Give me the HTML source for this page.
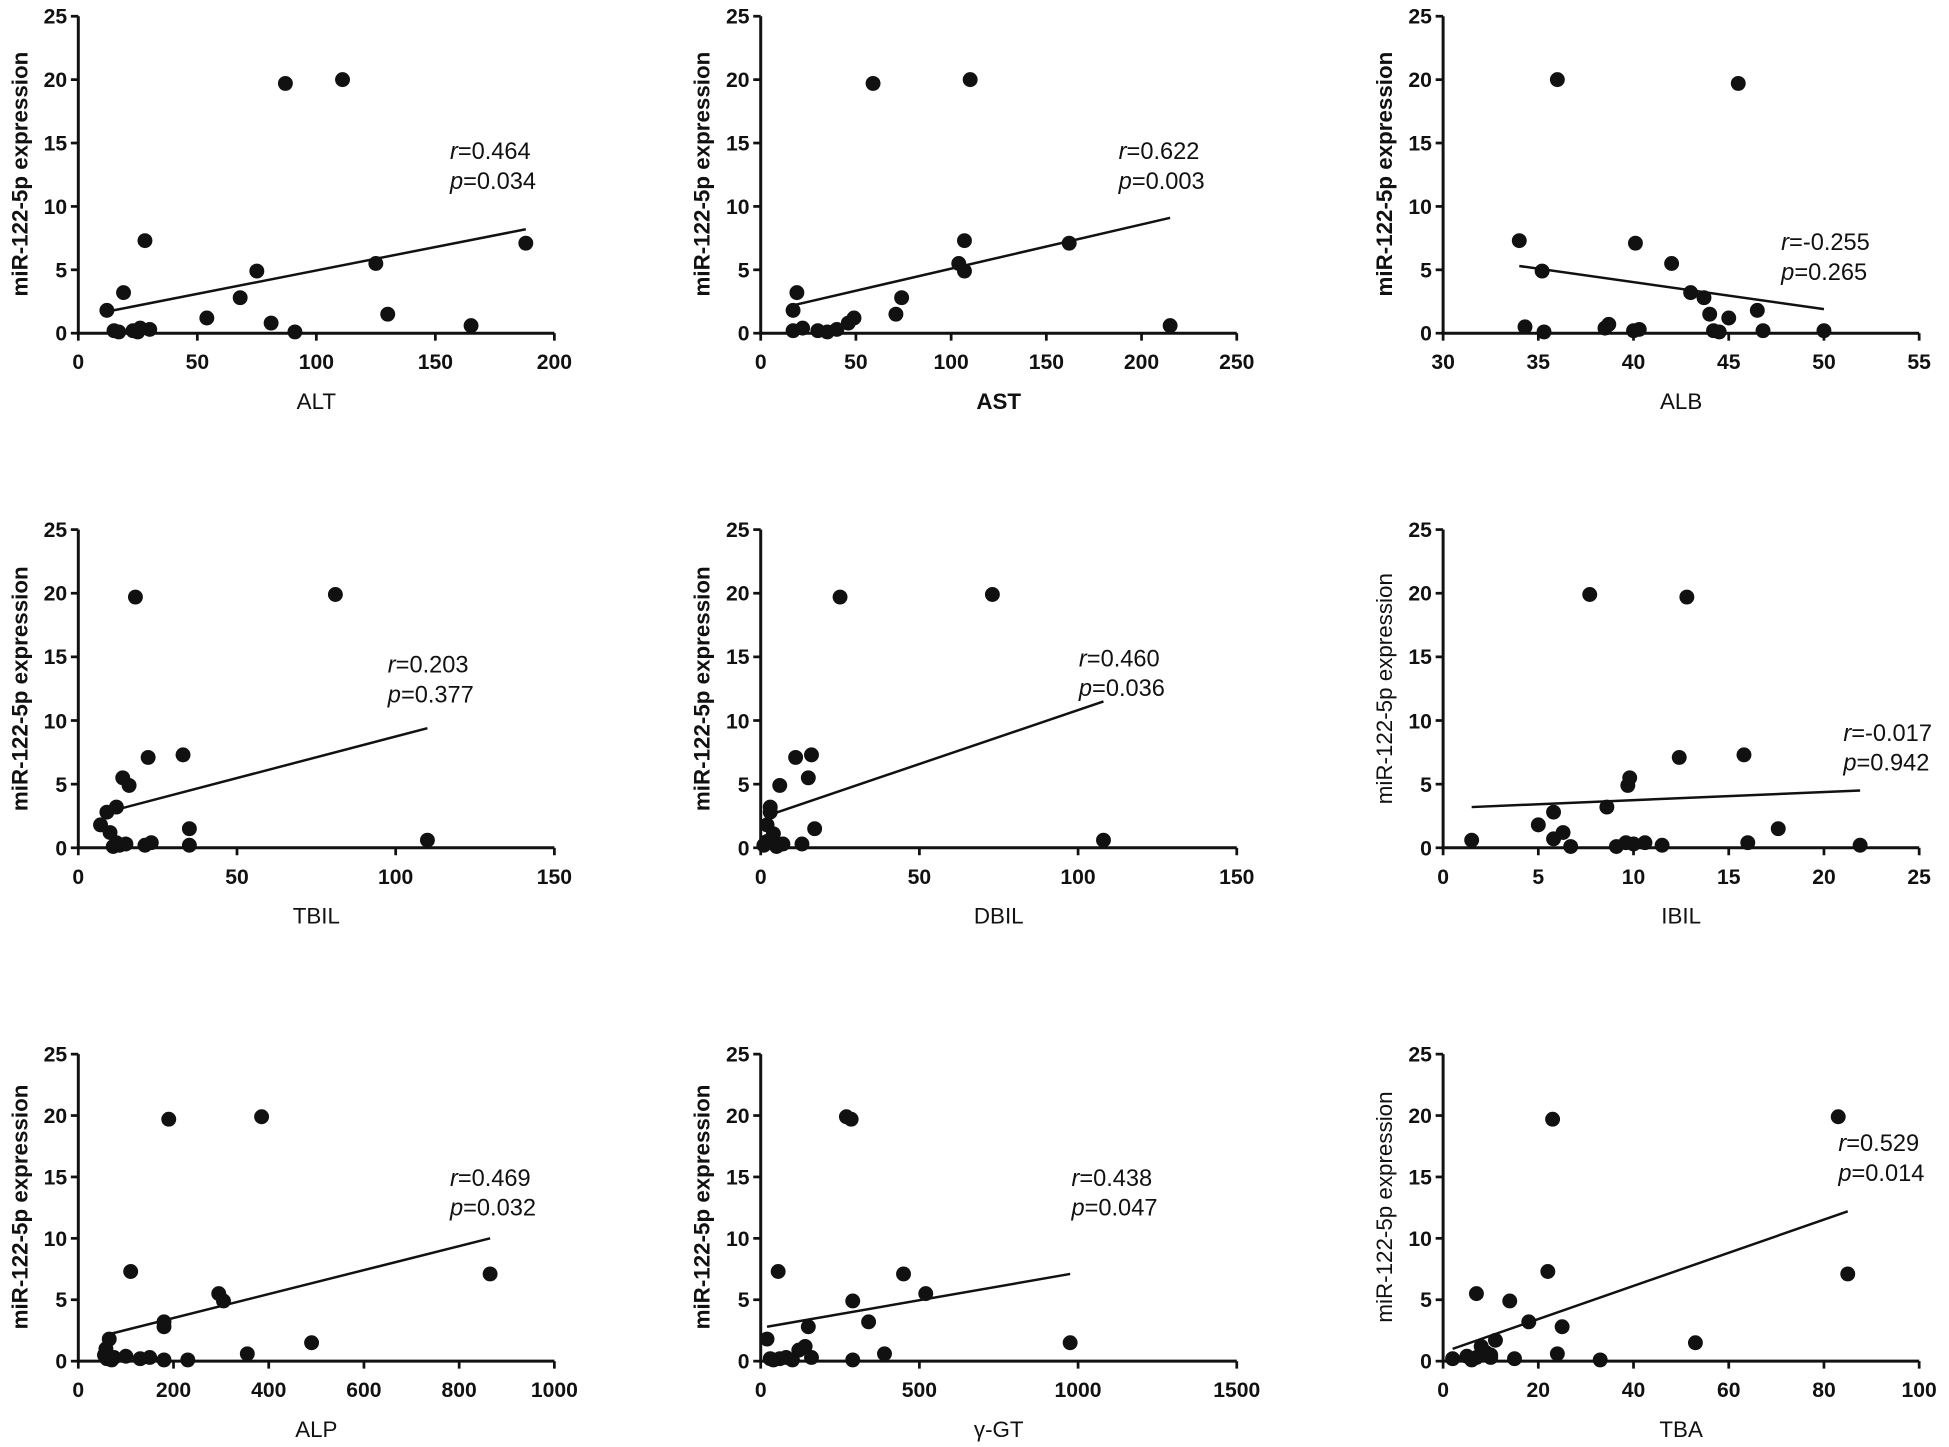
<!DOCTYPE html>
<html><head><meta charset="utf-8"><style>
html,body{margin:0;padding:0;background:#fff;}
svg{display:block;}
text{font-family:"Liberation Sans",Arial,sans-serif;fill:#111;}
.t{font-size:17px;font-weight:bold;}
.yl{font-size:18px;font-weight:bold;}
.yn{font-size:18px;}
.xl{font-size:18px;}
.an{font-size:19px;}
</style></head><body>
<svg id="s" width="1949" height="1447" viewBox="0 0 1568 1164" xmlns="http://www.w3.org/2000/svg">
<!-- Row 1 -->
<g transform="translate(63,268)">
<text class="yl" transform="translate(-41,-128) rotate(-90)" text-anchor="middle">miR-122-5p expression</text>
<g class="t" text-anchor="end"><text x="-9" y="6">0</text><text x="-9" y="-45">5</text><text x="-9" y="-96">10</text><text x="-9" y="-147">15</text><text x="-9" y="-198">20</text><text x="-9" y="-249">25</text></g>
<g class="t" text-anchor="middle"><text x="0" y="29">0</text><text x="95.75" y="29">50</text><text x="191.5" y="29">100</text><text x="287.25" y="29">150</text><text x="383" y="29">200</text></g>
<text class="xl" x="191.5" y="61" text-anchor="middle">ALT</text>
<text class="an" x="299" y="-140"><tspan font-style="italic">r</tspan>=0.464</text>
<text class="an" x="299" y="-116"><tspan font-style="italic">p</tspan>=0.034</text>
</g>
<g transform="translate(612,268)">
<text class="yl" transform="translate(-41,-128) rotate(-90)" text-anchor="middle">miR-122-5p expression</text>
<g class="t" text-anchor="end"><text x="-9" y="6">0</text><text x="-9" y="-45">5</text><text x="-9" y="-96">10</text><text x="-9" y="-147">15</text><text x="-9" y="-198">20</text><text x="-9" y="-249">25</text></g>
<g class="t" text-anchor="middle"><text x="0" y="29">0</text><text x="76.6" y="29">50</text><text x="153.2" y="29">100</text><text x="229.8" y="29">150</text><text x="306.4" y="29">200</text><text x="383" y="29">250</text></g>
<text class="xl" x="191.5" y="61" text-anchor="middle" font-weight="bold">AST</text>
<text class="an" x="288" y="-140"><tspan font-style="italic">r</tspan>=0.622</text>
<text class="an" x="288" y="-116"><tspan font-style="italic">p</tspan>=0.003</text>
</g>
<g transform="translate(1161,268)">
<text class="yl" transform="translate(-41,-128) rotate(-90)" text-anchor="middle">miR-122-5p expression</text>
<g class="t" text-anchor="end"><text x="-9" y="6">0</text><text x="-9" y="-45">5</text><text x="-9" y="-96">10</text><text x="-9" y="-147">15</text><text x="-9" y="-198">20</text><text x="-9" y="-249">25</text></g>
<g class="t" text-anchor="middle"><text x="0" y="29">30</text><text x="76.6" y="29">35</text><text x="153.2" y="29">40</text><text x="229.8" y="29">45</text><text x="306.4" y="29">50</text><text x="383" y="29">55</text></g>
<text class="xl" x="191.5" y="61" text-anchor="middle">ALB</text>
<text class="an" x="272" y="-67"><tspan font-style="italic">r</tspan>=-0.255</text>
<text class="an" x="272" y="-43"><tspan font-style="italic">p</tspan>=0.265</text>
</g>
<!-- Row 2 -->
<g transform="translate(63,682)">
<text class="yl" transform="translate(-41,-128) rotate(-90)" text-anchor="middle">miR-122-5p expression</text>
<g class="t" text-anchor="end"><text x="-9" y="6">0</text><text x="-9" y="-45">5</text><text x="-9" y="-96">10</text><text x="-9" y="-148">15</text><text x="-9" y="-199">20</text><text x="-9" y="-250">25</text></g>
<g class="t" text-anchor="middle"><text x="0" y="29">0</text><text x="127.7" y="29">50</text><text x="255.3" y="29">100</text><text x="383" y="29">150</text></g>
<text class="xl" x="191.5" y="61" text-anchor="middle">TBIL</text>
<text class="an" x="249" y="-141"><tspan font-style="italic">r</tspan>=0.203</text>
<text class="an" x="249" y="-117"><tspan font-style="italic">p</tspan>=0.377</text>
</g>
<g transform="translate(612,682)">
<text class="yl" transform="translate(-41,-128) rotate(-90)" text-anchor="middle">miR-122-5p expression</text>
<g class="t" text-anchor="end"><text x="-9" y="6">0</text><text x="-9" y="-45">5</text><text x="-9" y="-96">10</text><text x="-9" y="-148">15</text><text x="-9" y="-199">20</text><text x="-9" y="-250">25</text></g>
<g class="t" text-anchor="middle"><text x="0" y="29">0</text><text x="127.7" y="29">50</text><text x="255.3" y="29">100</text><text x="383" y="29">150</text></g>
<text class="xl" x="191.5" y="61" text-anchor="middle">DBIL</text>
<text class="an" x="256" y="-146"><tspan font-style="italic">r</tspan>=0.460</text>
<text class="an" x="256" y="-122"><tspan font-style="italic">p</tspan>=0.036</text>
</g>
<g transform="translate(1161,682)">
<text class="yn" transform="translate(-41,-128) rotate(-90)" text-anchor="middle">miR-122-5p expression</text>
<g class="t" text-anchor="end"><text x="-9" y="6">0</text><text x="-9" y="-45">5</text><text x="-9" y="-96">10</text><text x="-9" y="-148">15</text><text x="-9" y="-199">20</text><text x="-9" y="-250">25</text></g>
<g class="t" text-anchor="middle"><text x="0" y="29">0</text><text x="76.6" y="29">5</text><text x="153.2" y="29">10</text><text x="229.8" y="29">15</text><text x="306.4" y="29">20</text><text x="383" y="29">25</text></g>
<text class="xl" x="191.5" y="61" text-anchor="middle">IBIL</text>
<text class="an" x="322" y="-86"><tspan font-style="italic">r</tspan>=-0.017</text>
<text class="an" x="322" y="-62"><tspan font-style="italic">p</tspan>=0.942</text>
</g>
<!-- Row 3 -->
<g transform="translate(63,1095)">
<text class="yl" transform="translate(-41,-124) rotate(-90)" text-anchor="middle">miR-122-5p expression</text>
<g class="t" text-anchor="end"><text x="-9" y="6">0</text><text x="-9" y="-43.4">5</text><text x="-9" y="-92.8">10</text><text x="-9" y="-142.2">15</text><text x="-9" y="-191.6">20</text><text x="-9" y="-241">25</text></g>
<g class="t" text-anchor="middle"><text x="0" y="29">0</text><text x="76.6" y="29">200</text><text x="153.2" y="29">400</text><text x="229.8" y="29">600</text><text x="306.4" y="29">800</text><text x="383" y="29">1000</text></g>
<text class="xl" x="191.5" y="61" text-anchor="middle">ALP</text>
<text class="an" x="299" y="-141"><tspan font-style="italic">r</tspan>=0.469</text>
<text class="an" x="299" y="-117"><tspan font-style="italic">p</tspan>=0.032</text>
</g>
<g transform="translate(612,1095)">
<text class="yl" transform="translate(-41,-124) rotate(-90)" text-anchor="middle">miR-122-5p expression</text>
<g class="t" text-anchor="end"><text x="-9" y="6">0</text><text x="-9" y="-43.4">5</text><text x="-9" y="-92.8">10</text><text x="-9" y="-142.2">15</text><text x="-9" y="-191.6">20</text><text x="-9" y="-241">25</text></g>
<g class="t" text-anchor="middle"><text x="0" y="29">0</text><text x="127.7" y="29">500</text><text x="255.3" y="29">1000</text><text x="383" y="29">1500</text></g>
<text class="xl" x="191.5" y="61" text-anchor="middle">γ-GT</text>
<text class="an" x="250" y="-141"><tspan font-style="italic">r</tspan>=0.438</text>
<text class="an" x="250" y="-117"><tspan font-style="italic">p</tspan>=0.047</text>
</g>
<g transform="translate(1161,1095)">
<text class="yn" transform="translate(-41,-124) rotate(-90)" text-anchor="middle">miR-122-5p expression</text>
<g class="t" text-anchor="end"><text x="-9" y="6">0</text><text x="-9" y="-43.4">5</text><text x="-9" y="-92.8">10</text><text x="-9" y="-142.2">15</text><text x="-9" y="-191.6">20</text><text x="-9" y="-241">25</text></g>
<g class="t" text-anchor="middle"><text x="0" y="29">0</text><text x="76.6" y="29">20</text><text x="153.2" y="29">40</text><text x="229.8" y="29">60</text><text x="306.4" y="29">80</text><text x="383" y="29">100</text></g>
<text class="xl" x="191.5" y="61" text-anchor="middle">TBA</text>
<text class="an" x="318" y="-169"><tspan font-style="italic">r</tspan>=0.529</text>
<text class="an" x="318" y="-145"><tspan font-style="italic">p</tspan>=0.014</text>
</g>
</svg>
<script>
var NS="http://www.w3.org/2000/svg",s=document.getElementById("s");
function el(n,a){var e=document.createElementNS(NS,n);for(var k in a)e.setAttribute(k,a[k]);s.appendChild(e);return e;}
var P=[
{ox:63,oy:268,H:255,x0:0,x1:200,nt:4,L:[12,1.7,188,8.2],d:[[12,1.8],[15,0.2],[17,0.1],[19,3.2],[23,0.2],[25,0.1],[26,0.4],[28,7.3],[30,0.3],[54,1.2],[68,2.8],[75,4.9],[81,0.8],[87,19.7],[91,0.1],[111,20],[125,5.5],[130,1.5],[165,0.6],[188,7.1]]},
{ox:612,oy:268,H:255,x0:0,x1:250,nt:5,L:[17,2.2,215,9.1],d:[[17,0.2],[17,1.8],[19,3.2],[22,0.4],[30,0.2],[35,0.1],[40,0.3],[46,0.8],[49,1.2],[59,19.7],[71,1.5],[74,2.8],[104,5.5],[107,7.3],[107,4.9],[110,20],[162,7.1],[215,0.6]]},
{ox:1161,oy:268,H:255,x0:30,x1:55,nt:5,L:[34,5.3,50,1.9],d:[[34,7.3],[34.3,0.5],[35.2,4.9],[35.3,0.1],[36,20],[38.5,0.4],[38.7,0.7],[40,0.2],[40.1,7.1],[40.3,0.3],[42,5.5],[43,3.2],[43.7,2.8],[44,1.5],[44.2,0.2],[44.5,0.1],[45,1.2],[45.5,19.7],[46.5,1.8],[46.8,0.2],[50,0.2]]},
{ox:63,oy:682,H:256,x0:0,x1:150,nt:3,L:[9,2.8,110,9.4],d:[[7,1.8],[9,2.8],[10,1.2],[11,0.1],[12,3.2],[12,0.4],[13,0.2],[14,5.5],[15,0.3],[16,4.9],[18,19.7],[21,0.2],[22,7.1],[23,0.4],[33,7.3],[35,1.5],[35,0.2],[81,19.9],[110,0.6]]},
{ox:612,oy:682,H:256,x0:0,x1:150,nt:3,L:[3,2.6,108,11.5],d:[[1,0.2],[2,1.8],[2,0.5],[3,3.2],[3,2.8],[4,1.1],[5,0.1],[6,4.9],[7,0.3],[11,7.1],[13,0.3],[15,5.5],[16,7.3],[17,1.5],[25,19.7],[73,19.9],[108,0.6]]},
{ox:1161,oy:682,H:256,x0:0,x1:25,nt:5,L:[1.5,3.2,21.9,4.5],d:[[1.5,0.6],[5,1.8],[5.8,2.8],[5.8,0.7],[6.3,1.2],[6.7,0.1],[7.7,19.9],[8.6,3.2],[9.1,0.1],[9.6,0.4],[9.7,4.9],[9.8,5.5],[10,0.3],[10.6,0.4],[11.5,0.2],[12.4,7.1],[12.8,19.7],[15.8,7.3],[16,0.4],[17.6,1.5],[21.9,0.2]]},
{ox:63,oy:1095,H:247,x0:0,x1:1000,nt:5,L:[55,2.1,865,10],d:[[55,0.5],[58,1.0],[60,0.2],[65,1.8],[70,0.1],[75,0.3],[100,0.4],[110,7.3],[130,0.2],[150,0.3],[180,3.2],[180,2.8],[180,0.1],[190,19.7],[230,0.1],[295,5.5],[305,4.9],[355,0.6],[385,19.9],[490,1.5],[865,7.1]]},
{ox:612,oy:1095,H:247,x0:0,x1:1500,nt:3,L:[20,2.8,975,7.1],d:[[20,1.8],[30,0.2],[40,0.1],[55,7.3],[60,0.2],[80,0.3],[100,0.1],[120,0.9],[140,1.2],[150,2.8],[160,0.3],[270,19.9],[285,19.7],[290,4.9],[290,0.1],[340,3.2],[390,0.6],[450,7.1],[520,5.5],[975,1.5]]},
{ox:1161,oy:1095,H:247,x0:0,x1:100,nt:5,L:[2,1.0,85,12.2],d:[[2,0.2],[5,0.4],[6,0.1],[7,5.5],[7,0.3],[8,1.2],[9,0.7],[10,0.5],[10,0.3],[11,1.7],[14,4.9],[15,0.2],[18,3.2],[22,7.3],[23,19.7],[24,0.6],[25,2.8],[33,0.1],[53,1.5],[83,19.9],[85,7.1]]}
];
P.forEach(function(p){
 var W=383;
 function X(v){return p.ox+(v-p.x0)/(p.x1-p.x0)*W;}
 function Y(v){return p.oy-v/25*p.H;}
 el("line",{x1:p.ox,y1:p.oy-p.H,x2:p.ox,y2:p.oy+1.2,stroke:"#111","stroke-width":2.4});
 el("line",{x1:p.ox-1.2,y1:p.oy,x2:p.ox+W,y2:p.oy,stroke:"#111","stroke-width":2.4});
 for(var i=0;i<=5;i++){var y=p.oy-i*p.H/5;el("line",{x1:p.ox-6,y1:y,x2:p.ox,y2:y,stroke:"#111","stroke-width":2.2});}
 for(var j=0;j<=p.nt;j++){var x=p.ox+j*W/p.nt;el("line",{x1:x,y1:p.oy,x2:x,y2:p.oy+6,stroke:"#111","stroke-width":2.2});}
 p.d.forEach(function(q){el("circle",{cx:X(q[0]),cy:Y(q[1]),r:6,fill:"#111"});});
 el("line",{x1:X(p.L[0]),y1:Y(p.L[1]),x2:X(p.L[2]),y2:Y(p.L[3]),stroke:"#111","stroke-width":2});
});
</script>
</body></html>
